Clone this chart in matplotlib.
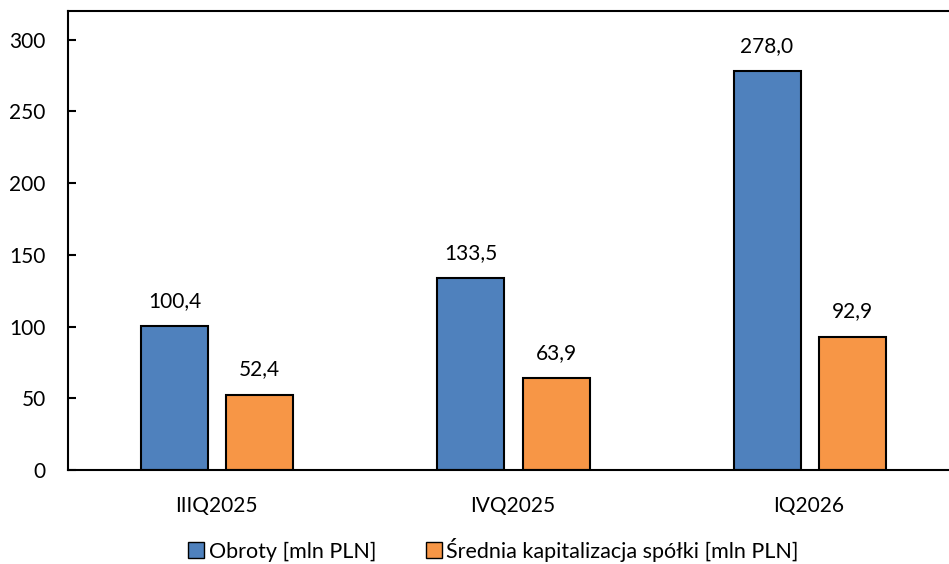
import matplotlib.pyplot as plt
import numpy as np
from matplotlib.patches import Patch

quarters = ['IIIQ2025', 'IVQ2025', 'IQ2026']
obroty = [100.4, 133.5, 278.0]
kapitalizacja = [52.4, 63.9, 92.9]
labels = ['Obroty [mln PLN]', 'Średnia kapitalizacja spółki [mln PLN]']

blue = '#4f81bd'
orange = '#f79646'

plt.rcParams['font.family'] = ['Lato', 'DejaVu Sans']

def fmt(v):
	return f'{v:.1f}'.replace('.', ',')

def main():
	fig = plt.figure(figsize=(9.49, 5.64), dpi=100)
	ax = fig.add_axes([0.0717, 0.1667, 0.9283, 0.8138])

	x = np.arange(len(quarters))
	w = 0.226
	off = 0.144
	b1 = ax.bar(x - off + 0.003, obroty, w, color=blue, edgecolor='black', linewidth=1.5)
	b2 = ax.bar(x + off + 0.003, kapitalizacja, w, color=orange, edgecolor='black', linewidth=1.5)

	for bars, vals in ((b1, obroty), (b2, kapitalizacja)):
		for bar, v in zip(bars, vals):
			ax.annotate(fmt(v), (bar.get_x() + bar.get_width() / 2, v),
				xytext=(0, 11), textcoords='offset points',
				ha='center', va='bottom', fontsize=15)

	ax.set_xlim(-0.5, 2.473)
	ax.set_ylim(0, 320)
	ax.set_yticks(range(0, 301, 50))
	ax.set_xticks(x)
	ax.set_xticklabels(quarters)
	ax.tick_params(axis='y', direction='in', length=6, width=1.5, pad=16, labelsize=15)
	ax.tick_params(axis='x', length=0, pad=19, labelsize=15)
	for s in ('left', 'bottom', 'top'):
		ax.spines[s].set_linewidth(1.5)
	ax.spines['right'].set_visible(False)

	handles = [Patch(facecolor=blue, edgecolor='black'), Patch(facecolor=orange, edgecolor='black')]
	fig.legend(handles, labels, loc='lower center', bbox_to_anchor=(0.52, -0.03), ncol=2,
		frameon=False, fontsize=15.5, handlelength=0.75, handleheight=0.75,
		handletextpad=0.2, columnspacing=2.3)

	fig.savefig('out.png', dpi=100)

if __name__ == '__main__':
	main()
